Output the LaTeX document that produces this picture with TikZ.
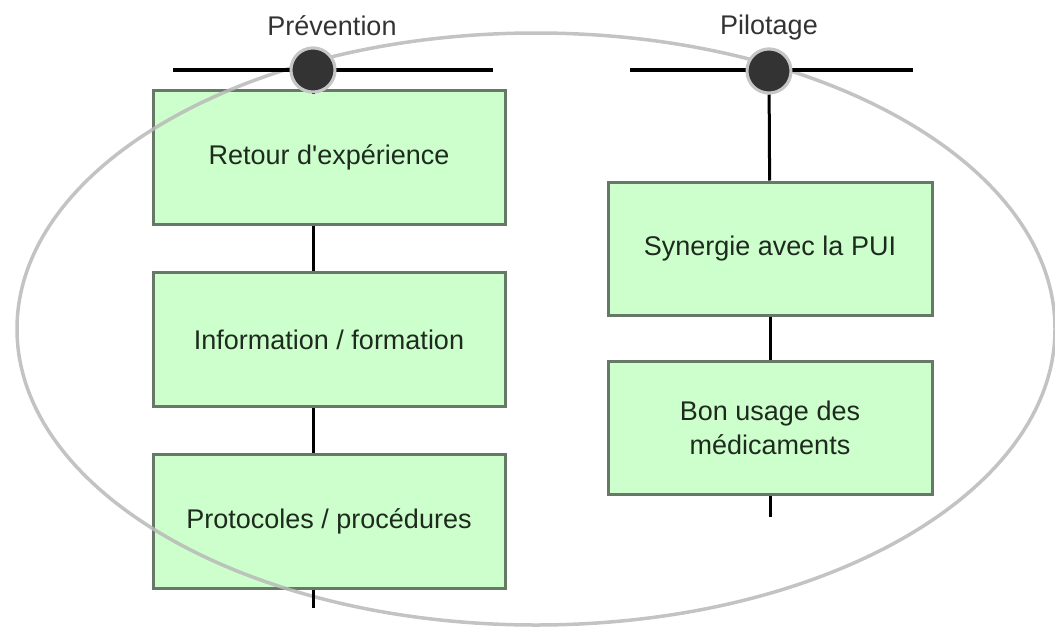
\documentclass[tikz,border=0pt]{standalone}
\usepackage{fontspec}
\setmainfont{Liberation Sans}
\usepackage{tikz}
\usetikzlibrary{positioning, calc}
\definecolor{boxfill}{HTML}{CCFFCC}
\definecolor{boxline}{HTML}{667866}
\definecolor{dotfill}{HTML}{333333}
\definecolor{txtcol}{HTML}{1E2A1E}
\tikzstyle{box} = [rectangle, draw=boxline, fill=boxfill, line width=3pt, align=center, text=txtcol, font=\fontsize{27}{34}\selectfont]
\tikzstyle{lbl} = [text=black!80, anchor=base, font=\fontsize{27}{32}\selectfont]
\tikzstyle{dot} = [circle, fill=dotfill, draw=gray!45, line width=3pt, minimum size=44pt, inner sep=0pt]
\tikzstyle{bar} = [line width=3.5pt, black]
\tikzstyle{link} = [line width=3pt, black]

\begin{document}
\begin{tikzpicture}[x=1pt, y=-1pt]
  \useasboundingbox (0,0) rectangle (1055,640);
  % left column
  \node[box, minimum width=352pt, minimum height=134pt] (ret) at (329,157.5) {Retour d\textquotesingle expérience};
  \node[box, minimum width=352pt, minimum height=134pt, below=45pt of ret] (info) {Information / formation};
  \node[box, minimum width=352pt, minimum height=134pt, below=45pt of info] (proto) {Protocoles / procédures};
  % right column
  \node[box, minimum width=324pt, minimum height=133pt] (syn) at (770,248.5) {Synergie avec la PUI};
  \node[box, minimum width=324pt, minimum height=133pt, below=43pt of syn] (bon) {Bon usage des\\médicaments};
  % heads
  \node[lbl] (prev) at (332,35) {Prévention};
  \node[lbl] (pilot) at (769,34) {Pilotage};
  \coordinate (barLw) at (173,70);
  \coordinate (barLe) at (493,70);
  \coordinate (barRw) at (630,70);
  \coordinate (barRe) at (913,70);
  \coordinate (tailL) at (313,608);
  \coordinate (tailR) at (770,517);
  \node[dot] (dotL) at (313,70) {};
  \node[dot] (dotR) at (769,71) {};
  % frame
  \draw[gray!55, line width=3.5pt, opacity=0.85] (536,329) ellipse [x radius=519pt, y radius=296pt];
  \draw[link] (dotL) -- (dotL |- ret.north);
  \draw[link] (ret.south -| dotL) -- (info.north -| dotL);
  \draw[link] (info.south -| dotL) -- (proto.north -| dotL);
  \draw[link] (proto.south -| dotL) -- (tailL);
  \draw[link] (dotR) -- (syn);
  \draw[link] (syn) -- (bon);
  \draw[link] (bon) -- (tailR);
  \draw[bar] (barLw) -- (barLe);
  \draw[bar] (barRw) -- (barRe);
  \node[dot] at (dotL) {};
  \node[dot] at (dotR) {};
\end{tikzpicture}
\end{document}
